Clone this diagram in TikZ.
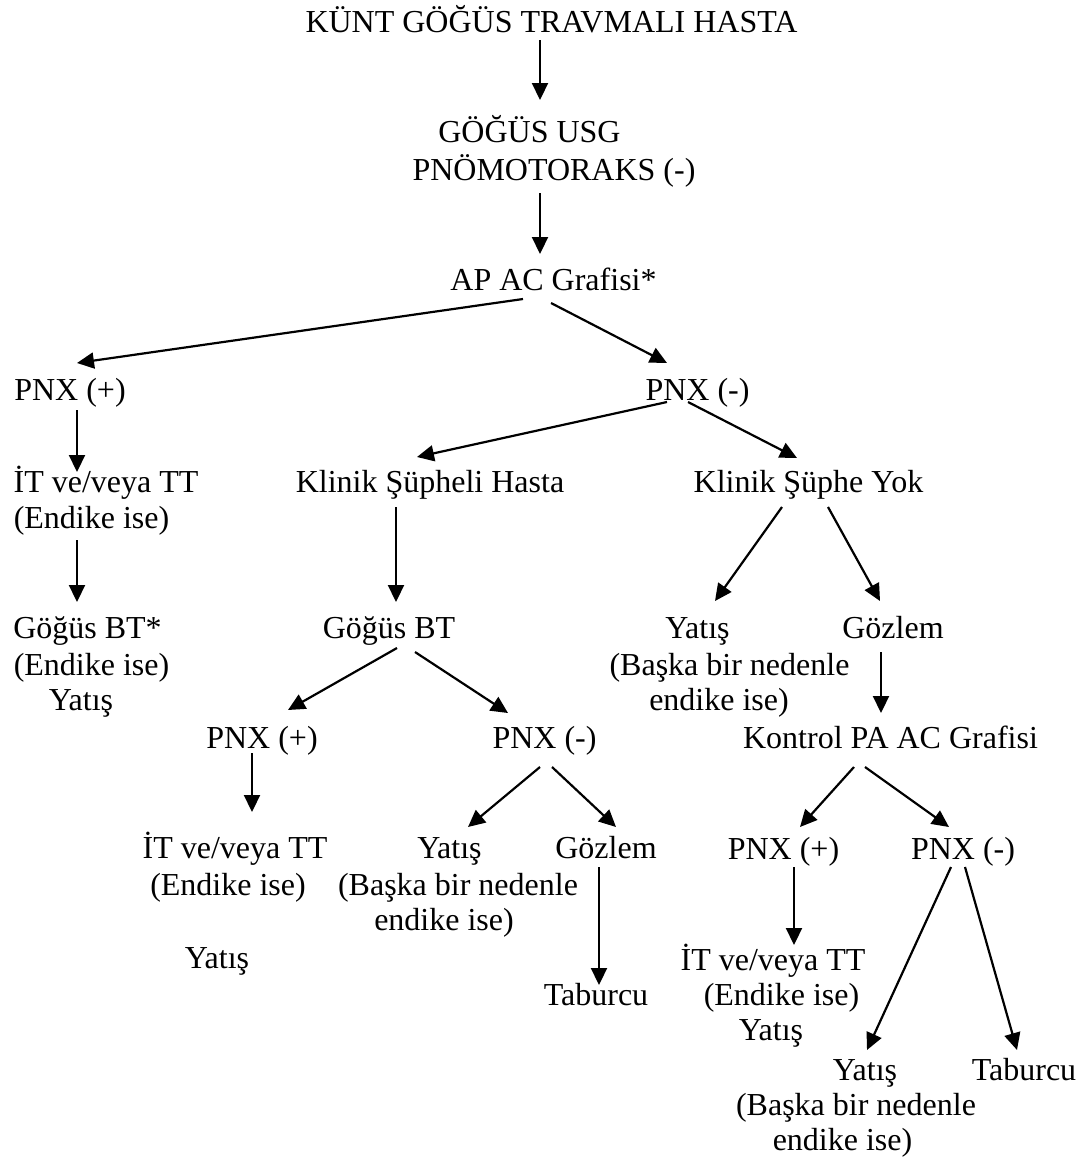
\documentclass[tikz,border=0pt]{standalone}
\usepackage{fontspec}
\setmainfont{Liberation Serif}
\usetikzlibrary{arrows.meta}
\tikzset{
  lbl/.style={anchor=base, inner sep=0pt, font=\fontsize{32}{37}\selectfont},
  arr/.style={line width=2.2pt, -{Triangle[length=17pt,width=16pt]}}
}
\begin{document}
\begin{tikzpicture}[x=1pt,y=-1pt]
\useasboundingbox (0,0) rectangle (1086,1162);
% nodes
\node[lbl] (kunt) at (551.5,32) {KÜNT GÖĞÜS TRAVMALI HASTA};
\node[lbl] (usg) at (529.5,142) {GÖĞÜS USG};
\node[lbl] (usg-2) at (554,180) {PNÖMOTORAKS (-)};
\node[lbl] (ap) at (553.5,290) {AP AC Grafisi*};
\node[lbl] (pnxL) at (70,400) {PNX (+)};
\node[lbl] (pnxR) at (697.5,400) {PNX (-)};
\node[lbl] (itL) at (106,492) {İT ve/veya TT};
\node[lbl] (itL-2) at (91.5,528) {(Endike ise)};
\node[lbl] (btL) at (87.5,638) {Göğüs BT*};
\node[lbl] (btL-2) at (91.5,675) {(Endike ise)};
\node[lbl] (btL-3) at (81,710) {Yatış};
\node[lbl] (ksh) at (430,492) {Klinik Şüpheli Hasta};
\node[lbl] (ksy) at (808.5,492) {Klinik Şüphe Yok};
\node[lbl] (btM) at (389,638) {Göğüs BT};
\node[lbl] (yatR) at (697.5,638) {Yatış};
\node[lbl] (yatR-2) at (729.5,675) {(Başka bir nedenle};
\node[lbl] (yatR-3) at (719,710) {endike ise)};
\node[lbl] (gozR) at (893,638) {Gözlem};
\node[lbl] (kontrol) at (890.5,748) {Kontrol PA AC Grafisi};
\node[lbl] (pnxMp) at (262,748) {PNX (+)};
\node[lbl] (pnxMm) at (544.5,748) {PNX (-)};
\node[lbl] (itM) at (235,858) {İT ve/veya TT};
\node[lbl] (itM-2) at (228,895) {(Endike ise)};
\node[lbl] (itM-3) at (217,968) {Yatış};
\node[lbl] (yatM) at (449.5,858) {Yatış};
\node[lbl] (yatM-2) at (458,895) {(Başka bir nedenle};
\node[lbl] (yatM-3) at (444,930) {endike ise)};
\node[lbl] (gozM) at (606,858) {Gözlem};
\node[lbl] (tabM) at (596,1005) {Taburcu};
\node[lbl] (pnxRp) at (783.5,859) {PNX (+)};
\node[lbl] (pnxRm) at (963,859) {PNX (-)};
\node[lbl] (itR) at (773,970) {İT ve/veya TT};
\node[lbl] (itR-2) at (781.5,1005) {(Endike ise)};
\node[lbl] (itR-3) at (771,1040) {Yatış};
\node[lbl] (yatRR) at (865,1080) {Yatış};
\node[lbl] (yatRR-2) at (856,1115) {(Başka bir nedenle};
\node[lbl] (yatRR-3) at (842.5,1150) {endike ise)};
\node[lbl] (tabR) at (1024,1080) {Taburcu};
% connectors
\draw[arr] ([shift={(-11.5,8)}]kunt.base) -- ([shift={(10.5,-42)}]usg.base);
\draw[arr] ([shift={(-14,13)}]usg-2.base) -- ([shift={(-13.5,-36)}]ap.base);
\draw[arr] ([shift={(-30.5,9)}]ap.base) -- ([shift={(7,-37)}]pnxL.base);
\draw[arr] ([shift={(-2.5,13)}]ap.base) -- ([shift={(-30.5,-37)}]pnxR.base);
\draw[arr] ([shift={(7,10)}]pnxL.base) -- ([shift={(-29,-20)}]itL.base);
\draw[arr] ([shift={(-30.5,2)}]pnxR.base) -- ([shift={(-13,-35)}]ksh.base);
\draw[arr] ([shift={(-9.5,2)}]pnxR.base) -- ([shift={(-11.5,-34)}]ksy.base);
\draw[arr] ([shift={(-14.5,12)}]itL-2.base) -- ([shift={(-10.5,-36)}]btL.base);
\draw[arr] ([shift={(-34,15)}]ksh.base) -- ([shift={(7,-36)}]btM.base);
\draw[arr] ([shift={(-26.5,15)}]ksy.base) -- ([shift={(17.5,-37)}]yatR.base);
\draw[arr] ([shift={(19.5,15)}]ksy.base) -- ([shift={(-13,-37)}]gozR.base);
\draw[arr] ([shift={(8,10)}]btM.base) -- ([shift={(26,-38)}]pnxMp.base);
\draw[arr] ([shift={(26,14)}]btM.base) -- ([shift={(-36.5,-35)}]pnxMm.base);
\draw[arr] ([shift={(-12,14)}]gozR.base) -- ([shift={(-9.5,-35)}]kontrol.base);
\draw[arr] ([shift={(-10,5)}]pnxMp.base) -- ([shift={(17,-46)}]itM.base);
\draw[arr] ([shift={(-4.5,19)}]pnxMm.base) -- ([shift={(18.5,-31)}]yatM.base);
\draw[arr] ([shift={(7.5,19)}]pnxMm.base) -- ([shift={(10,-31)}]gozM.base);
\draw[arr] ([shift={(-7,9)}]gozM.base) -- ([shift={(3,-20)}]tabM.base);
\draw[arr] ([shift={(-36.5,19)}]kontrol.base) -- ([shift={(16.5,-32)}]pnxRp.base);
\draw[arr] ([shift={(-25.5,19)}]kontrol.base) -- ([shift={(-14,-32)}]pnxRm.base);
\draw[arr] ([shift={(10.5,8)}]pnxRp.base) -- ([shift={(21,-25)}]itR.base);
\draw[arr] ([shift={(-12,8)}]pnxRm.base) -- ([shift={(2,-30)}]yatRR.base);
\draw[arr] ([shift={(2,8)}]pnxRm.base) -- ([shift={(-7,-30)}]tabR.base);
\end{tikzpicture}
\end{document}
